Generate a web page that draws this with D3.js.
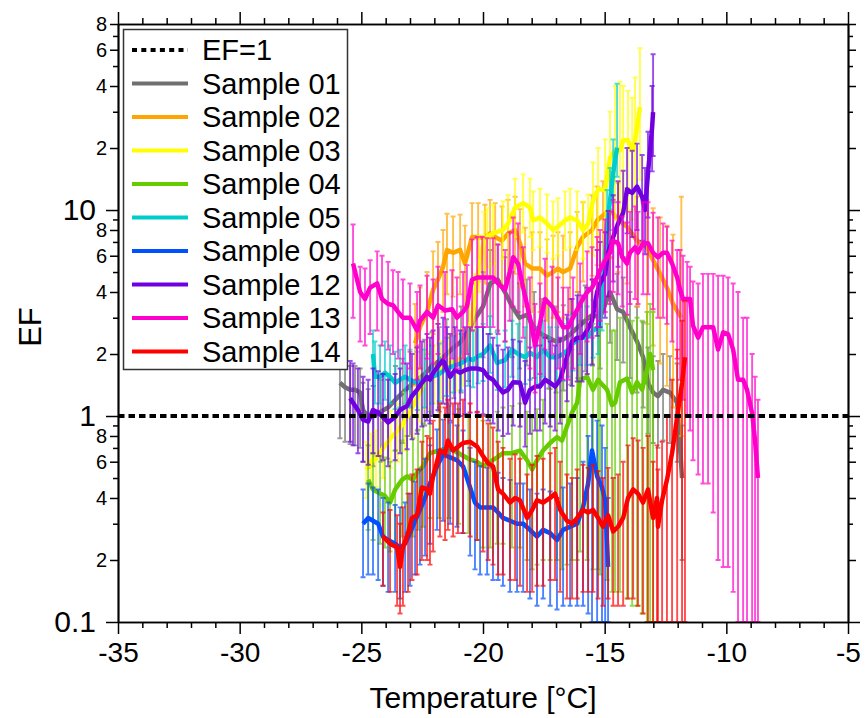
<!DOCTYPE html>
<html>
<head>
<meta charset="utf-8">
<script src="https://cdn.jsdelivr.net/npm/d3@7"></script>
<style>
  body { margin: 0; background: #fff; }
  svg { font-family: "Liberation Sans", Arial, sans-serif; }
</style>
</head>
<body>
<svg id="chart" width="865" height="718"></svg>
<script>
// each point: [temperature °C, EF, lower error, upper error]
const sample01 = [
  [-25.88,1.45,0.78,1.85],[-25.67,1.38,0.75,1.8],[-25.46,1.34,0.73,1.75],[-25.26,1.34,0.72,1.75],
  [-25.05,1.30,0.7,1.7],[-24.93,1.07,0.6,1.45],[-24.72,0.99,0.56,1.35],[-24.50,1.0,0.57,1.4],
  [-24.20,1.05,0.6,1.5],[-23.90,1.1,0.62,1.6],[-23.60,1.2,0.68,1.75],[-23.30,1.3,0.74,1.9],
  [-23.00,1.4,0.8,2.05],[-22.70,1.5,0.85,2.2],[-22.40,1.6,0.9,2.35],[-22.10,1.75,1.0,2.55],
  [-21.80,1.85,1.05,2.7],[-21.50,2.0,1.14,2.95],[-21.20,2.15,1.22,3.15],[-20.90,2.3,1.3,3.4],
  [-20.60,2.6,1.48,3.8],[-20.30,3.0,1.7,4.4],[-20.00,3.4,1.93,5.0],[-19.70,4.4,2.5,6.4],
  [-19.40,4.6,2.6,6.8],[-19.10,4.0,2.3,5.9],[-18.80,3.4,1.93,5.0],[-18.50,3.0,1.7,4.4],
  [-18.20,3.1,1.76,4.6],[-17.90,2.7,1.53,4.0],[-17.60,2.5,1.42,3.7],[-17.30,2.4,1.36,3.5],
  [-17.00,2.3,1.3,3.4],[-16.70,2.35,1.33,3.45],[-16.40,2.5,1.42,3.7],[-16.10,2.7,1.53,4.0],
  [-15.80,2.9,1.65,4.3],[-15.50,3.1,1.76,4.6],[-15.19,3.0,1.7,4.4],[-14.78,4.0,2.27,5.9],
  [-14.49,3.3,1.87,4.9],[-14.24,3.2,1.82,4.7],[-13.96,2.7,1.53,4.0],[-13.67,2.3,1.3,3.4],
  [-13.42,1.93,1.1,2.85],[-13.22,1.45,0.82,2.15],[-13.01,1.30,0.74,1.95],[-12.81,1.25,0.7,1.85],
  [-12.60,1.34,0.76,2.0],[-12.32,1.30,0.74,1.95],[-12.02,1.16,0.6,1.8],[-11.82,0.5,0.2,0.9]
];
const sample02 = [
  [-22.79,2.25,1.4,3.5],[-22.59,2.7,1.7,4.2],[-22.30,3.2,2.0,5.0],[-22.05,4.1,2.5,6.3],
  [-21.85,4.6,2.8,7.0],[-21.64,5.3,3.2,8.0],[-21.48,6.4,3.9,9.6],[-21.23,6.2,3.8,9.3],
  [-20.94,6.4,3.9,9.5],[-20.74,5.5,3.4,8.4],[-20.45,7.4,4.5,10.8],[-20.20,7.4,4.5,10.8],
  [-19.92,7.3,4.4,10.6],[-19.71,7.7,4.7,11.2],[-19.50,7.4,4.5,10.8],[-19.22,7.1,4.3,10.4],
  [-18.97,7.7,4.7,11.2],[-18.68,8.0,4.9,11.6],[-18.48,6.9,4.2,10.1],[-18.27,5.5,3.4,8.2],
  [-17.98,5.2,3.2,7.8],[-17.66,5.2,3.2,7.8],[-17.37,4.8,2.9,7.2],[-17.12,5.0,3.0,7.5],
  [-16.92,5.2,3.2,7.8],[-16.71,5.0,3.0,7.5],[-16.42,5.2,3.2,7.8],[-16.13,6.6,4.0,9.8],
  [-15.89,7.4,4.5,10.9],[-15.52,8.0,4.8,11.8],[-15.31,8.9,5.4,13.0],[-15.07,9.4,5.6,13.8],
  [-14.78,10.0,5.8,14.5],[-14.45,9.0,5.0,13.5],[-14.08,8.3,4.4,12.8],[-13.67,7.1,3.4,11.6],
  [-13.26,6.6,2.8,11.2],[-13.01,5.7,2.2,10.2],[-12.72,4.9,1.8,9.2],[-12.44,4.2,1.4,8.4],
  [-12.19,3.5,1.1,7.6],[-11.85,3.0,0.8,11.6]
];
const sample03 = [
  [-24.80,0.55,0.4,0.75],[-24.60,0.6,0.44,0.82],[-24.40,0.62,0.45,0.85],[-24.10,0.7,0.5,0.95],
  [-23.80,0.78,0.56,1.06],[-23.50,0.85,0.6,1.15],[-23.20,0.95,0.68,1.3],[-22.90,1.1,0.8,1.5],
  [-22.60,1.3,0.94,1.75],[-22.30,1.5,1.08,2.05],[-22.00,1.6,1.15,2.2],[-21.70,1.7,1.22,2.3],
  [-21.40,1.8,1.3,2.45],[-21.10,1.85,1.33,2.5],[-20.80,1.95,1.4,2.65],[-20.55,2.6,1.87,3.5],
  [-20.35,3.6,2.6,4.9],[-20.15,5.5,4.0,7.5],[-19.96,7.1,5.1,9.8],[-19.83,7.4,5.3,10.2],
  [-19.59,7.7,5.5,10.6],[-19.18,8.0,5.8,11],[-18.97,8.6,6.2,11.8],[-18.68,10.3,7.4,14.2],
  [-18.35,10.8,7.8,14.9],[-18.07,10.3,7.4,14.2],[-17.94,8.9,6.4,12.3],[-17.66,9.2,6.6,12.7],
  [-17.37,8.6,6.2,11.9],[-17.12,8.0,5.8,11],[-16.92,8.3,6.0,11.4],[-16.63,8.9,6.4,12.3],
  [-16.42,9.2,6.6,12.7],[-16.13,8.9,6.4,12.3],[-15.89,8.0,5.8,11],[-15.68,8.6,6.2,11.9],
  [-15.48,11.1,6.0,17],[-15.27,12.6,6.5,20],[-14.98,12.5,6.5,22],[-14.78,18.0,8.5,30],
  [-14.57,19.5,9,40],[-14.37,19.5,9,42],[-14.24,21.8,10,40],[-14.04,21.8,10,38],
  [-13.87,19.5,9,35],[-13.75,21.8,10,44],[-13.55,31.6,14,61]
];
const sample04 = [
  [-24.72,0.49,0.28,0.72],[-24.52,0.44,0.25,0.66],[-24.23,0.42,0.24,0.64],[-24.03,0.41,0.23,0.63],
  [-23.82,0.38,0.22,0.6],[-23.61,0.44,0.24,0.68],[-23.33,0.49,0.26,0.76],[-23.12,0.51,0.27,0.8],
  [-22.88,0.49,0.26,0.78],[-22.67,0.54,0.28,0.86],[-22.46,0.57,0.29,0.92],[-22.18,0.66,0.32,1.05],
  [-21.80,0.68,0.32,1.1],[-21.40,0.70,0.32,1.12],[-21.00,0.66,0.3,1.08],[-20.60,0.62,0.27,1.02],
  [-20.25,0.60,0.25,1.0],[-20.00,0.57,0.23,0.95],[-19.70,0.60,0.23,1.0],[-19.42,0.63,0.24,1.05],
  [-19.18,0.66,0.24,1.1],[-18.81,0.66,0.23,1.12],[-18.48,0.68,0.23,1.15],[-18.19,0.61,0.2,1.05],
  [-17.98,0.55,0.18,0.98],[-17.78,0.61,0.19,1.08],[-17.53,0.68,0.2,1.2],[-17.24,0.74,0.2,1.35],
  [-16.96,0.79,0.2,1.5],[-16.75,0.76,0.18,1.5],[-16.55,0.89,0.19,1.8],[-16.34,1.04,0.2,2.1],
  [-16.13,1.16,0.2,2.4],[-16.01,1.50,0.22,2.9],[-15.72,1.55,0.2,3.0],[-15.48,1.34,0.18,2.8],
  [-15.27,1.50,0.18,3.0],[-15.19,1.46,0.17,3.0],[-14.90,1.34,0.16,2.8],[-14.70,1.13,0.14,2.6],
  [-14.57,1.16,0.14,2.6],[-14.37,1.46,0.14,3.0],[-14.08,1.52,0.13,3.1],[-13.87,1.30,0.12,2.9],
  [-13.67,1.46,0.12,3.0],[-13.46,1.34,0.11,2.9],[-13.26,1.67,0.1,3.2],[-13.13,2.0,0.1,3.5],
  [-13.01,1.67,0.1,3.2]
];
const sample05 = [
  [-24.52,2.0,1.4,2.6],[-24.44,1.55,1.15,2.3],[-24.23,1.55,1.15,2.2],[-24.03,1.62,1.2,2.3],
  [-23.82,1.55,1.15,2.2],[-23.61,1.45,1.08,2.05],[-23.41,1.50,1.1,2.1],[-23.20,1.55,1.15,2.2],
  [-23.00,1.50,1.1,2.1],[-22.70,1.45,1.07,2.05],[-22.40,1.50,1.1,2.1],[-22.10,1.55,1.15,2.2],
  [-21.80,1.60,1.18,2.25],[-21.50,1.70,1.25,2.4],[-21.20,1.75,1.3,2.45],[-20.90,1.80,1.33,2.5],
  [-20.60,1.90,1.4,2.65],[-20.41,1.87,1.38,2.6],[-20.20,1.95,1.44,2.7],[-20.00,2.0,1.48,2.8],
  [-19.71,2.2,1.62,3.05],[-19.42,1.81,1.34,2.55],[-19.09,1.87,1.38,2.6],[-18.81,2.1,1.55,2.9],
  [-18.56,2.0,1.48,2.8],[-18.27,1.93,1.43,2.7],[-18.07,2.03,1.5,2.85],[-17.78,1.93,1.43,2.7],
  [-17.53,2.1,1.55,2.9],[-17.24,1.93,1.43,2.7],[-16.96,1.93,1.43,2.7],[-16.71,2.0,1.48,2.8],
  [-16.50,2.1,1.55,2.95],[-16.30,2.25,1.66,3.15],[-16.01,2.4,1.77,3.4],[-15.72,2.4,1.77,3.4],
  [-15.48,2.6,1.92,3.65],[-15.27,2.7,2.0,3.8],[-15.11,3.6,2.6,5.2],[-14.90,8.6,6.2,12.5],
  [-14.78,11.1,8.0,16],[-14.65,15.1,10.9,22],[-14.49,20.1,14.5,41]
];
const sample09 = [
  [-24.93,0.30,0.165,0.44],[-24.72,0.32,0.17,0.47],[-24.52,0.31,0.17,0.45],[-24.31,0.30,0.16,0.44],
  [-24.11,0.26,0.15,0.40],[-23.90,0.25,0.14,0.38],[-23.61,0.24,0.14,0.37],[-23.41,0.23,0.13,0.36],
  [-23.20,0.24,0.14,0.38],[-23.00,0.27,0.15,0.42],[-22.79,0.31,0.17,0.48],[-22.59,0.35,0.19,0.55],
  [-22.38,0.40,0.21,0.62],[-22.18,0.47,0.24,0.72],[-21.89,0.57,0.28,0.86],[-21.64,0.65,0.31,0.96],
  [-21.35,0.63,0.30,0.93],[-21.07,0.61,0.29,0.9],[-20.82,0.57,0.27,0.85],[-20.53,0.45,0.21,0.7],
  [-20.33,0.38,0.18,0.6],[-20.12,0.36,0.17,0.57],[-19.83,0.36,0.17,0.56],[-19.59,0.36,0.16,0.56],
  [-19.38,0.34,0.16,0.53],[-19.18,0.32,0.15,0.5],[-18.89,0.31,0.14,0.49],[-18.60,0.30,0.14,0.47],
  [-18.35,0.30,0.14,0.47],[-18.07,0.28,0.13,0.44],[-17.78,0.26,0.12,0.42],[-17.53,0.28,0.13,0.44],
  [-17.24,0.27,0.12,0.43],[-16.96,0.25,0.115,0.40],[-16.71,0.28,0.12,0.45],[-16.42,0.29,0.12,0.47],
  [-16.13,0.30,0.12,0.5],[-15.89,0.36,0.12,0.6],[-15.68,0.47,0.11,0.8],[-15.52,0.68,0.1,1.0],
  [-15.31,0.51,0.1,0.95],[-15.11,0.45,0.1,0.9],[-14.98,0.39,0.1,0.7],[-14.86,0.185,0.1,0.4]
];
const sample12 = [
  [-25.46,1.22,0.75,1.85],[-25.34,1.16,0.72,1.8],[-25.14,1.07,0.66,1.7],[-24.93,0.96,0.6,1.55],
  [-24.72,0.94,0.58,1.5],[-24.52,1.07,0.66,1.7],[-24.31,1.04,0.64,1.65],[-24.11,0.99,0.61,1.6],
  [-23.90,0.93,0.57,1.5],[-23.61,0.99,0.61,1.6],[-23.41,1.07,0.66,1.7],[-23.12,1.12,0.69,1.8],
  [-22.92,1.25,0.77,2.0],[-22.71,1.34,0.82,2.15],[-22.51,1.45,0.89,2.3],[-22.30,1.55,0.95,2.5],
  [-22.18,1.50,0.92,2.4],[-22.05,1.62,1.0,2.6],[-21.85,1.74,1.07,2.8],[-21.64,1.87,1.15,3.0],
  [-21.48,1.67,1.02,2.7],[-21.35,1.55,0.95,2.5],[-21.15,1.67,1.02,2.7],[-20.94,1.62,1.0,2.6],
  [-20.74,1.67,1.02,2.7],[-20.53,1.70,1.04,2.7],[-20.24,1.70,1.04,2.7],[-20.00,1.67,1.02,2.7],
  [-19.79,1.55,0.95,2.5],[-19.59,1.50,0.92,2.4],[-19.38,1.39,0.85,2.2],[-19.18,1.30,0.8,2.1],
  [-18.97,1.34,0.82,2.15],[-18.76,1.46,0.9,2.35],[-18.48,1.45,0.89,2.3],[-18.27,1.16,0.71,1.85],
  [-18.07,1.34,0.82,2.15],[-17.86,1.39,0.85,2.2],[-17.66,1.39,0.85,2.2],[-17.45,1.50,0.92,2.4],
  [-17.24,1.45,0.89,2.3],[-17.04,1.39,0.85,2.2],[-16.83,1.50,0.92,2.4],[-16.55,1.93,1.18,3.1],
  [-16.34,2.3,1.4,3.7],[-16.13,2.4,1.47,3.85],[-15.93,2.4,1.47,3.85],[-15.72,2.6,1.6,4.2],
  [-15.52,2.9,1.78,4.6],[-15.31,4.0,2.45,6.4],[-15.19,4.4,2.7,7.0],[-14.98,4.9,3.0,7.8],
  [-14.86,6.2,3.8,9.9],[-14.65,7.4,4.5,11.8],[-14.45,8.6,5.3,13.8],[-14.24,9.7,5.9,15.5],
  [-14.08,12.6,7.7,20],[-13.87,12.1,7.4,19.4],[-13.67,13.0,8.0,21],[-13.46,11.6,7.1,18.5],
  [-13.34,10.0,6.1,16],[-13.22,15.1,9.2,24],[-13.05,25.2,15.4,40],[-13.01,29.9,18.3,57]
];
const sample13 = [
  [-25.34,5.5,3.0,8.5],[-25.05,4.0,2.3,5.3],[-24.85,3.7,2.2,5.2],[-24.64,4.2,2.5,5.7],
  [-24.35,4.4,2.6,6.3],[-24.15,3.7,2.2,6.0],[-23.90,3.5,2.1,5.6],[-23.70,3.45,2.0,5.1],
  [-23.49,3.2,1.9,5.0],[-23.29,3.0,1.8,4.6],[-23.00,3.0,1.7,4.4],[-22.71,2.6,1.5,4.0],
  [-22.59,2.9,1.7,4.3],[-22.30,3.2,1.9,4.8],[-22.05,3.0,1.8,4.6],[-21.85,3.45,2.0,5.3],
  [-21.56,3.25,1.9,5.0],[-21.27,3.3,1.9,5.1],[-21.07,3.0,1.7,4.7],[-20.82,3.2,1.9,5.0],
  [-20.66,3.4,2.0,5.4],[-20.45,4.6,2.6,7.2],[-20.24,4.7,2.7,7.4],[-20.03,4.7,2.7,7.4],
  [-19.83,4.7,2.7,7.3],[-19.59,4.7,2.7,7.3],[-19.38,4.4,2.5,6.8],[-19.09,4.1,2.3,6.4],
  [-18.90,5.0,2.9,7.8],[-18.76,5.9,3.4,9.2],[-18.56,5.5,3.2,8.6],[-18.35,4.2,2.4,6.6],
  [-18.07,3.0,1.7,4.7],[-17.86,2.2,1.3,3.5],[-17.66,2.8,1.6,4.4],[-17.45,3.7,2.1,5.8],
  [-17.16,3.4,2.0,5.3],[-16.92,3.0,1.7,4.7],[-16.71,2.7,1.5,4.2],[-16.50,2.7,1.5,4.2],
  [-16.30,3.0,1.7,4.7],[-16.01,3.5,2.0,5.5],[-15.72,4.0,2.3,6.3],[-15.52,4.2,2.4,6.6],
  [-15.31,4.7,2.7,7.4],[-15.19,5.1,2.9,8.0],[-14.98,5.7,3.2,9.0],[-14.78,6.2,3.5,9.8],
  [-14.65,7.1,4.0,11.2],[-14.45,6.9,3.9,10.9],[-14.28,5.9,3.4,9.3],[-14.08,5.5,3.1,8.7],
  [-13.96,6.2,3.5,9.8],[-13.75,6.6,3.7,10.4],[-13.63,6.2,3.5,9.8],[-13.42,6.9,3.9,10.9],
  [-13.22,6.9,3.9,10.9],[-13.01,6.2,3.3,9.7],[-12.81,5.9,3.0,9.2],[-12.60,6.2,3.0,8.6],
  [-12.44,6.2,2.8,8.3],[-12.23,5.5,2.3,7.1],[-12.02,4.7,1.9,6.4],[-11.90,4.1,1.5,6.4],
  [-11.78,3.7,1.2,6.0],[-11.61,3.7,1.0,5.6],[-11.49,3.7,0.85,5.3],[-11.37,2.75,0.61,4.5],
  [-11.16,2.4,0.52,4.4],[-10.96,2.7,0.47,4.9],[-10.75,2.7,0.47,4.9],[-10.54,2.7,0.34,4.9],
  [-10.34,2.1,0.2,4.8],[-10.13,2.55,0.185,4.8],[-9.93,2.5,0.185,4.7],[-9.72,2.1,0.14,4.4],
  [-9.52,1.5,0.1,4.0],[-9.31,1.5,0.1,3.0],[-9.15,1.34,0.1,3.0],[-8.94,1.03,0.1,2.0],
  [-8.82,0.76,0.1,1.55],[-8.70,0.5,0.1,1.2]
];
const sample14 = [
  [-24.11,0.26,0.15,0.34],[-23.82,0.24,0.14,0.35],[-23.53,0.23,0.12,0.33],[-23.41,0.185,0.11,0.30],
  [-23.29,0.23,0.12,0.36],[-23.08,0.27,0.14,0.42],[-22.92,0.32,0.16,0.52],[-22.71,0.33,0.17,0.55],
  [-22.51,0.45,0.2,0.75],[-22.30,0.44,0.2,0.8],[-22.18,0.42,0.19,0.78],[-22.05,0.51,0.22,0.95],
  [-21.77,0.68,0.26,1.15],[-21.56,0.66,0.25,1.1],[-21.44,0.76,0.28,1.2],[-21.23,0.68,0.26,1.15],
  [-21.03,0.71,0.27,1.15],[-20.82,0.74,0.27,1.2],[-20.53,0.75,0.26,1.15],[-20.24,0.71,0.25,1.05],
  [-20.00,0.64,0.22,1.0],[-19.79,0.59,0.2,0.92],[-19.59,0.57,0.19,0.88],[-19.38,0.44,0.17,0.75],
  [-19.18,0.42,0.17,0.7],[-18.89,0.38,0.16,0.62],[-18.68,0.40,0.16,0.65],[-18.48,0.39,0.15,0.62],
  [-18.19,0.32,0.14,0.52],[-17.98,0.35,0.14,0.58],[-17.78,0.39,0.15,0.64],[-17.53,0.38,0.15,0.62],
  [-17.24,0.40,0.16,0.66],[-17.04,0.42,0.16,0.7],[-16.83,0.35,0.14,0.6],[-16.55,0.31,0.13,0.52],
  [-16.34,0.30,0.13,0.5],[-16.13,0.32,0.13,0.55],[-15.89,0.35,0.14,0.58],[-15.68,0.34,0.14,0.56],
  [-15.48,0.35,0.14,0.58],[-15.27,0.32,0.13,0.54],[-15.07,0.29,0.12,0.5],[-14.86,0.33,0.13,0.56],
  [-14.65,0.275,0.12,0.5],[-14.45,0.29,0.12,0.52],[-14.24,0.32,0.12,0.6],[-14.04,0.40,0.13,0.72],
  [-13.83,0.44,0.13,0.78],[-13.63,0.42,0.12,0.76],[-13.42,0.38,0.11,0.7],[-13.22,0.44,0.1,0.8],
  [-13.01,0.32,0.1,0.6],[-12.85,0.40,0.1,0.72],[-12.81,0.29,0.1,0.55],[-12.64,0.39,0.1,0.75],
  [-12.44,0.49,0.1,1.0],[-12.23,0.66,0.1,1.5],[-12.02,0.99,0.1,2.1],[-11.82,1.45,0.1,2.9],
  [-11.70,1.93,0.1,3.6]
];

const seriesNames = ["Sample 01","Sample 02","Sample 03","Sample 04","Sample 05",
                     "Sample 09","Sample 12","Sample 13","Sample 14"];
const seriesColors = ["#707070","#ffa500","#ffff00","#66cc00","#00cccc",
                      "#0050ff","#7000e0","#ff00cc","#ff0000"];
const seriesData = [sample01,sample02,sample03,sample04,sample05,
                    sample09,sample12,sample13,sample14];

const xMajorTicks = [-35,-30,-25,-20,-15,-10,-5];
const xMinorTicks = [-34,-33,-32,-31,-29,-28,-27,-26,-24,-23,-22,-21,-19,-18,-17,-16,
                     -14,-13,-12,-11,-9,-8,-7,-6];
const yMajorTicks = [0.1, 1, 10];
const yLabeledMinor = [0.2,0.4,0.6,0.8,2,4,6,8,20,40,60,80];
const yPlainMinor = [0.3,0.5,0.7,0.9,3,5,7,9,30,50,70];

const svg = d3.select("#chart");
const plotLeft = 118, plotRight = 848, plotTop = 24, plotBottom = 622;

const x = d3.scaleLinear().domain([-35, -5]).range([plotLeft, plotRight]);
const y = d3.scaleLog().domain([0.1, 80]).range([plotBottom, plotTop]);

svg.append("defs").append("clipPath").attr("id", "plotClip")
  .append("rect").attr("x", plotLeft).attr("y", plotTop)
  .attr("width", plotRight - plotLeft).attr("height", plotBottom - plotTop);

const plot = svg.append("g").attr("clip-path", "url(#plotClip)");

// series: error bars first, then the mean line, one series after the other
seriesData.forEach((data, i) => {
  const color = seriesColors[i];
  const g = plot.append("g");
  const bars = g.append("g")
    .attr("stroke", color)
    .attr("stroke-width", 1.9)
    .attr("stroke-opacity", 0.7)
    .attr("fill", "none");
  bars.selectAll("path")
    .data(data)
    .enter()
    .append("path")
    .attr("d", (d) => {
      const px = x(d[0]), y1 = y(d[2]), y2 = y(d[3]);
      return `M${px},${y1}V${y2}M${px - 2.5},${y2}H${px + 2.5}M${px - 2.5},${y1}H${px + 2.5}`;
    });
  g.append("path")
    .datum(data)
    .attr("fill", "none")
    .attr("stroke", color)
    .attr("stroke-width", 4.5)
    .attr("stroke-linejoin", "round")
    .attr("d", d3.line().x((d) => x(d[0])).y((d) => y(d[1])));
});

// EF = 1 reference
svg.append("line")
  .attr("x1", plotLeft).attr("x2", plotRight)
  .attr("y1", y(1)).attr("y2", y(1))
  .attr("stroke", "#000")
  .attr("stroke-width", 4)
  .attr("stroke-dasharray", "6.5,4");

// axes
function styleAxis(g) {
  g.select(".domain").attr("stroke", "#000").attr("stroke-width", 1.5);
  g.selectAll(".tick line").attr("stroke", "#000").attr("stroke-width", 1.5);
  g.selectAll("text").attr("fill", "#000").attr("font-family", "Liberation Sans, Arial, sans-serif");
}

const bottomMinor = svg.append("g").attr("transform", `translate(0,${plotBottom})`)
  .call(d3.axisBottom(x).tickValues(xMinorTicks).tickSize(6).tickFormat("").tickSizeOuter(0));
styleAxis(bottomMinor);
const bottomMajor = svg.append("g").attr("transform", `translate(0,${plotBottom})`)
  .call(d3.axisBottom(x).tickValues(xMajorTicks).tickSize(12).tickPadding(8)
    .tickFormat((d) => (d < 0 ? "-" : "") + Math.abs(d)).tickSizeOuter(0));
styleAxis(bottomMajor);
bottomMajor.selectAll("text").attr("font-size", 28);

const topMinor = svg.append("g").attr("transform", `translate(0,${plotTop})`)
  .call(d3.axisTop(x).tickValues(xMinorTicks).tickSize(6).tickFormat("").tickSizeOuter(0));
styleAxis(topMinor);
const topMajor = svg.append("g").attr("transform", `translate(0,${plotTop})`)
  .call(d3.axisTop(x).tickValues(xMajorTicks).tickSize(12).tickFormat("").tickSizeOuter(0));
styleAxis(topMajor);

function leadDigit(d) {
  return String(Math.round(d / Math.pow(10, Math.floor(Math.log10(d) + 1e-9))));
}

function yAxisSet(axisFn, xpos, withLabels) {
  const plain = svg.append("g").attr("transform", `translate(${xpos},0)`)
    .call(axisFn(y).tickValues(yPlainMinor).tickSize(5).tickFormat("").tickSizeOuter(0));
  styleAxis(plain);
  const minor = svg.append("g").attr("transform", `translate(${xpos},0)`)
    .call(axisFn(y).tickValues(yLabeledMinor).tickSize(8).tickPadding(3)
      .tickFormat(withLabels ? leadDigit : "").tickSizeOuter(0));
  styleAxis(minor);
  minor.selectAll("text").attr("font-size", 20);
  const major = svg.append("g").attr("transform", `translate(${xpos},0)`)
    .call(axisFn(y).tickValues(yMajorTicks).tickSize(12).tickPadding(10)
      .tickFormat(withLabels ? (d) => (d < 1 ? "0.1" : String(d)) : "").tickSizeOuter(0));
  styleAxis(major);
  major.selectAll("text").attr("font-size", 30);
}
yAxisSet(d3.axisLeft, plotLeft, true);
yAxisSet(d3.axisRight, plotRight, false);

// axis titles
svg.append("text")
  .attr("x", (plotLeft + plotRight) / 2).attr("y", 708)
  .attr("text-anchor", "middle")
  .attr("font-size", 30)
  .text("Temperature [°C]");
svg.append("text")
  .attr("transform", "translate(41,327) rotate(-90)")
  .attr("text-anchor", "middle")
  .attr("font-size", 31)
  .text("EF");

// legend
const legend = svg.append("g");
legend.append("rect")
  .attr("x", 123.5).attr("y", 29.5).attr("width", 224).attr("height", 340)
  .attr("fill", "#fff").attr("stroke", "#333").attr("stroke-width", 1.5);
const legendNames = ["EF=1"].concat(seriesNames);
const legendColors = ["#000"].concat(seriesColors);
legendNames.forEach((name, i) => {
  const cy = 50 + i * 33.5;
  legend.append("line")
    .attr("x1", 132).attr("x2", 188).attr("y1", cy).attr("y2", cy)
    .attr("stroke", legendColors[i])
    .attr("stroke-width", 4)
    .attr("stroke-dasharray", i === 0 ? "5,4.3" : null);
  legend.append("text")
    .attr("x", 202).attr("y", cy).attr("dy", "0.36em")
    .attr("font-size", 29)
    .text(name);
});
</script>
</body>
</html>
